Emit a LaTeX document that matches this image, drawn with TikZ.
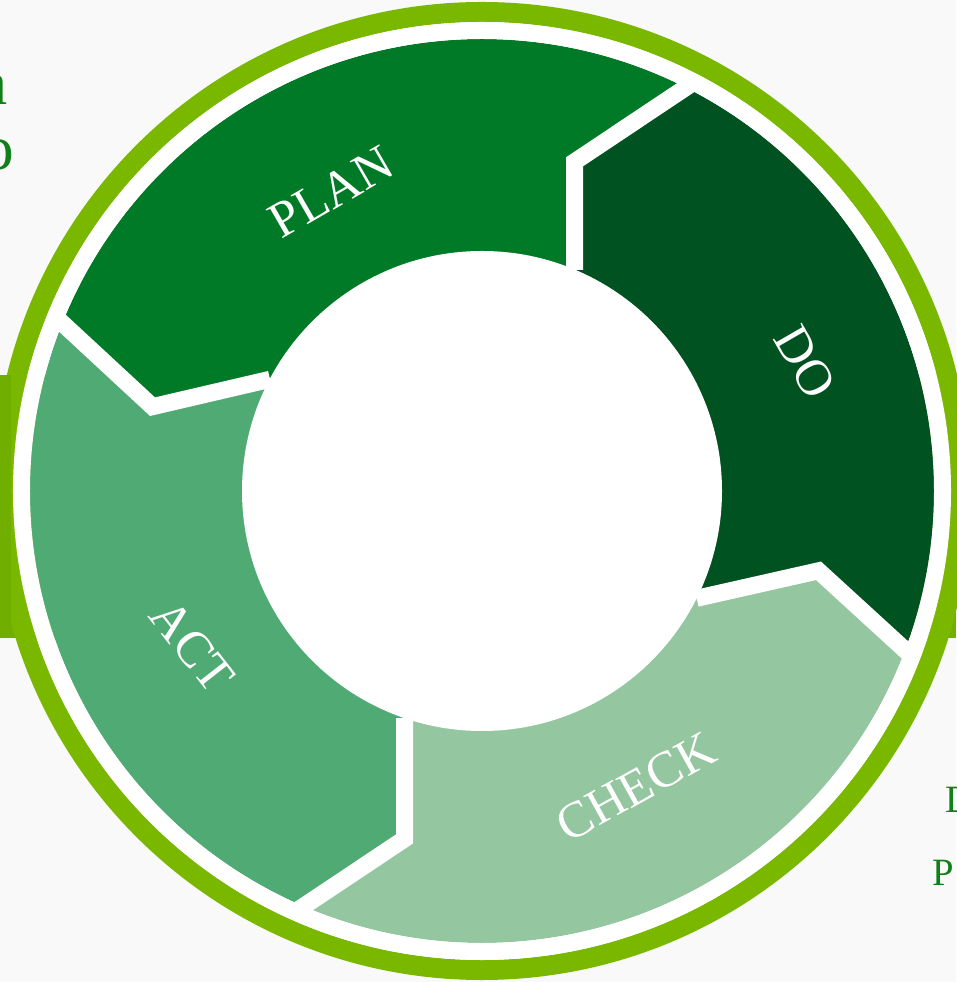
\documentclass[tikz,border=0pt]{standalone}
\usepackage{fontspec}
\setmainfont{Liberation Serif}
\usepackage{xcolor}
\usepackage{tikz}

\definecolor{ringgreen}{RGB}{122,184,0}
\definecolor{bandgreen}{RGB}{112,174,0}
\definecolor{plangreen}{RGB}{0,122,39}
\definecolor{dogreen}{RGB}{0,82,32}
\definecolor{checkgreen}{RGB}{148,198,160}
\definecolor{actgreen}{RGB}{80,170,115}
\definecolor{textgreen}{RGB}{16,128,24}
\definecolor{slidegrey}{RGB}{249,249,249}

\begin{document}
\begin{tikzpicture}[every node/.style={font=\fontsize{14.5}{17}\selectfont, text=white, inner sep=0pt}]
  \useasboundingbox (-4.82,-4.91) rectangle (4.74,4.91);
  \fill[slidegrey] (-4.82,-4.91) rectangle (4.74,4.91);
  \fill[bandgreen] (-4.82,1.16) rectangle (4.74,-1.47);

  % Boundaries between the arrows (inner, bend, outer)
  \coordinate (b1-in)  at (0.927,2.210);
  \coordinate (b1-mid) at (0.927,3.293);
  \coordinate (b1-out) at (63.2:4.52);
  \coordinate (b2-in)  at (2.147,-1.073);
  \coordinate (b2-mid) at (3.365,-0.798);
  \coordinate (b2-out) at (-20.6:4.52);
  \coordinate (b3-in)  at (-0.773,-2.270);
  \coordinate (b3-mid) at (-0.773,-3.478);
  \coordinate (b3-out) at (-113.25:4.52);
  \coordinate (b4-in)  at (-2.120,1.117);
  \coordinate (b4-mid) at (-3.295,0.843);
  \coordinate (b4-out) at (158.2:4.52);

  % The four arrows, clockwise
  \fill[plangreen] (b4-out) arc[start angle=158.2, end angle=63.2, radius=4.52]
    -- (b1-mid) -- (b1-in) -- (0,0) -- (b4-in) -- (b4-mid) -- cycle;
  \fill[dogreen] (b1-out) arc[start angle=63.2, end angle=-20.6, radius=4.52]
    -- (b2-mid) -- (b2-in) -- (0,0) -- (b1-in) -- (b1-mid) -- cycle;
  \fill[checkgreen] (b2-out) arc[start angle=-20.6, end angle=-113.25, radius=4.52]
    -- (b3-mid) -- (b3-in) -- (0,0) -- (b2-in) -- (b2-mid) -- cycle;
  \fill[actgreen] (b3-out) arc[start angle=-113.25, end angle=-201.8, radius=4.52]
    -- (b4-mid) -- (b4-in) -- (0,0) -- (b3-in) -- (b3-mid) -- cycle;

  % White gaps
  \foreach \bnd in {b1,b2,b3,b4}
    \draw[white, line width=0.17cm, shorten <=-0.2cm] (\bnd-out) -- (\bnd-mid) -- (\bnd-in);

  % Rings and hub
  \fill[ringgreen, even odd rule] (0,0) circle (4.89) circle (4.69);
  \fill[white, even odd rule] (0,0) circle (4.69) circle (4.52);
  \fill[white] (0,0) circle (2.40);
  \fill[bandgreen] (-4.82,1.16) rectangle (-4.71,-1.47);

  % Labels
  \node[rotate=30]  (plan)  at (-1.51,2.99)  {PLAN};
  \node[rotate=-60] (do)    at (3.23,1.29)   {DO};
  \node[rotate=29]  (check) at (1.54,-2.96)  {CHECK};
  \node[rotate=-52] (act)   at (-2.90,-1.55) {ACT};

  % Slide text cut off at the edges
  \node[text=textgreen, font=\fontsize{18}{20}\selectfont, anchor=base east] (lefta) at (-4.74,3.86) {a};
  \node[text=textgreen, font=\fontsize{18}{20}\selectfont, anchor=base east] (lefto) at (-4.67,3.21) {o};
  \node[text=textgreen, font=\fontsize{11}{13}\selectfont, anchor=base west] (rightd) at (4.63,-3.21) {D};
  \node[text=textgreen, font=\fontsize{11}{13}\selectfont, anchor=base west] (rightp) at (4.50,-3.94) {P};
\end{tikzpicture}
\end{document}
